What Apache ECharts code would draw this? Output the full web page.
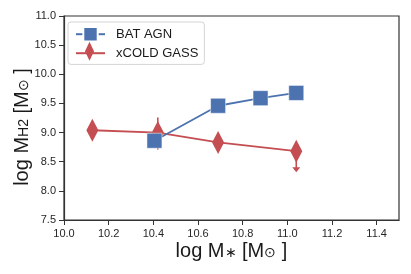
<!DOCTYPE html>
<html><head><meta charset="utf-8">
<script src="https://cdn.jsdelivr.net/npm/echarts@6/dist/echarts.min.js"></script>
<style>html,body{margin:0;padding:0;background:#fff}#c{width:411px;height:274px}</style>
</head><body><div id="c"></div>
<script>
const batX = [10.405, 10.69, 10.88, 11.04];
const batY = [8.86, 9.46, 9.59, 9.68];
const xcgX = [10.127, 10.42, 10.69, 11.04];
const xcgY = [9.04, 9.0, 8.83, 8.68];
const xcgErrLow = [null, 8.71, null, null];
const xcgErrHigh = [null, 9.26, null, null];
const xcgUpperLimitTo = [null, null, null, 8.32];
const xTicks = [10.0, 10.2, 10.4, 10.6, 10.8, 11.0, 11.2, 11.4];
const yTicks = [7.5, 8.0, 8.5, 9.0, 9.5, 10.0, 10.5, 11.0];
const seriesNames = ['BAT AGN', 'xCOLD GASS'];

const BLUE = '#4C72B0', RED = '#C44E52';
const FONT = 'Liberation Sans, Arial, sans-serif';
const chart = echarts.init(document.getElementById('c'), null, {renderer: 'canvas'});

const errData = xcgX.map((x, i) => [x, xcgErrLow[i], xcgErrHigh[i], xcgUpperLimitTo[i], xcgY[i]]);

const nameRich = {
  a: {fontSize: 20, fontFamily: FONT, color: '#1a1a1a'},
  s: {fontSize: 14, fontFamily: FONT, color: '#1a1a1a', padding: [4, 0, 0, 0]}
};

// legend geometry
const LG_LEFT = 68, LG_TOP = 22, LG_PAD = [4, 6, 4, 7], LG_W = 29, LG_H = 18;
const iconCx = LG_LEFT + LG_PAD[3] + LG_W / 2;
const row2Cy = LG_TOP + LG_PAD[0] + LG_H * 0.4 + 18;

chart.setOption({
  animation: false,
  textStyle: {fontFamily: FONT},
  grid: {left: 64, right: 12, top: 16, bottom: 54, outerBoundsMode: 'none', containLabel: false,
    show: true, borderColor: '#333', borderWidth: 1.2, backgroundColor: '#fff'},
  legend: {
    left: LG_LEFT, top: LG_TOP, orient: 'vertical', itemGap: 3.6, itemWidth: LG_W, itemHeight: LG_H,
    padding: LG_PAD,
    borderColor: '#d4d4d4', borderWidth: 1, borderRadius: 3, backgroundColor: '#fff',
    textStyle: {fontSize: 13, color: '#1a1a1a', fontFamily: FONT, padding: [0, 0, 0, 6]},
    data: [{name: seriesNames[0]}, {name: seriesNames[1], itemStyle: {opacity: 0}}]
  },
  graphic: [{
    type: 'polygon', z: 100,
    shape: {points: [[iconCx, row2Cy - 9.5], [iconCx + 4.5, row2Cy], [iconCx, row2Cy + 9.5], [iconCx - 4.5, row2Cy]]},
    style: {fill: RED}
  }],
  xAxis: {
    type: 'value', min: 10.0, max: 11.5, interval: 0.2,
    axisLine: {show: true, lineStyle: {color: '#333', width: 1.2}},
    axisTick: {show: true, length: 5, lineStyle: {color: '#333'}},
    axisLabel: {color: '#262626', fontSize: 11, fontFamily: FONT, showMaxLabel: false,
      formatter: v => xTicks.some(t => Math.abs(t - v) < 1e-6) ? v.toFixed(1) : ''},
    splitLine: {show: false},
    name: '{a|log M}{s|∗}{a| [M}{s|⊙}{a| ]}', nameLocation: 'middle', nameGap: 21, nameMoveOverlap: false,
    nameTextStyle: {rich: nameRich}
  },
  yAxis: {
    type: 'value', min: 7.5, max: 11.0, interval: 0.5,
    axisLine: {show: true, lineStyle: {color: '#333', width: 1.2}},
    axisTick: {show: true, length: 5, lineStyle: {color: '#333'}},
    axisLabel: {color: '#262626', fontSize: 11, fontFamily: FONT,
      formatter: v => yTicks.some(t => Math.abs(t - v) < 1e-6) ? v.toFixed(1) : ''},
    splitLine: {show: false},
    name: '{a|log M}{s|H2}{a| [M}{s|⊙}{a| ]}', nameLocation: 'middle', nameGap: 32, nameMoveOverlap: false,
    nameTextStyle: {rich: nameRich, padding: [0, 18, 0, 0]}
  },
  series: [
    {
      name: seriesNames[0], type: 'line', z: 5,
      data: batX.map((x, i) => [x, batY[i]]),
      symbol: 'rect', symbolSize: 15,
      lineStyle: {color: BLUE, width: 1.8}, itemStyle: {color: BLUE, borderColor: '#fff', borderWidth: 0.5}
    },
    {
      name: seriesNames[1], type: 'line', z: 3,
      data: xcgX.map((x, i) => [x, xcgY[i]]),
      symbol: 'diamond', symbolSize: [12, 23],
      lineStyle: {color: RED, width: 1.8}, itemStyle: {color: RED}
    },
    {
      type: 'custom', z: 2, silent: true,
      data: errData,
      renderItem: function (params, api) {
        const x = api.value(0), lo = api.value(1), hi = api.value(2), ul = api.value(3), yc = api.value(4);
        const children = [];
        const st = {stroke: RED, lineWidth: 1.6};
        if (!isNaN(lo) && !isNaN(hi)) {
          const p1 = api.coord([x, lo]), p2 = api.coord([x, hi]);
          children.push({type: 'line', shape: {x1: p1[0], y1: p1[1], x2: p2[0], y2: p2[1]}, style: st});
        }
        if (!isNaN(ul)) {
          const p1 = api.coord([x, yc]), p2 = api.coord([x, ul]);
          children.push({type: 'line', shape: {x1: p1[0], y1: p1[1], x2: p2[0], y2: p2[1] - 4}, style: st});
          children.push({type: 'polygon', shape: {points: [[p2[0] - 4, p2[1] - 5], [p2[0] + 4, p2[1] - 5], [p2[0], p2[1]]]}, style: {fill: RED}});
        }
        return {type: 'group', children: children};
      }
    }
  ]
});
</script></body></html>
